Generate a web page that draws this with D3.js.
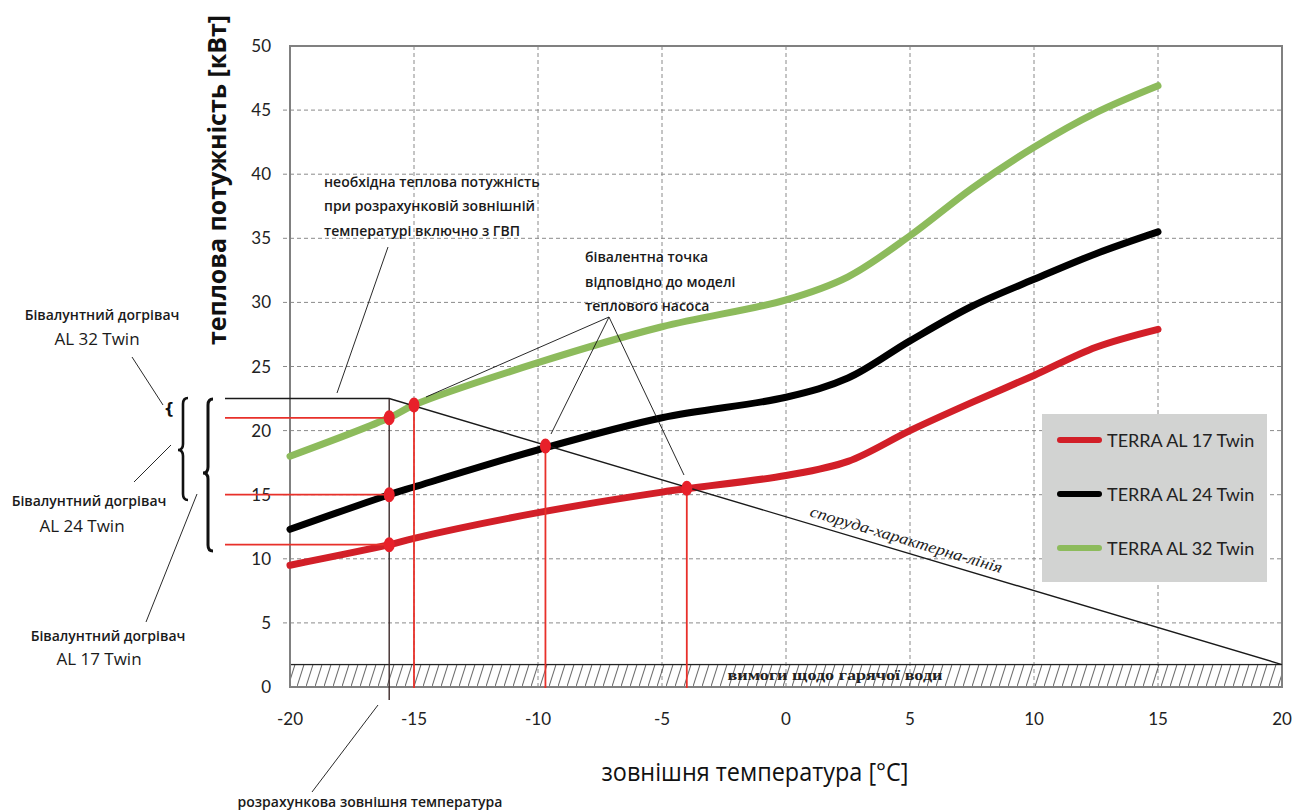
<!DOCTYPE html>
<html><head><meta charset="utf-8">
<script src="https://cdn.jsdelivr.net/npm/d3@7"></script>
<style>body{margin:0;background:#fff}svg{display:block}</style>
</head><body><svg id="c" width="1292" height="812"></svg>
<script>
// ---- data ----
const temps = [-20, -16, -15, -10, -5, 0, 2.5, 5, 7.5, 10, 12.5, 15];
const al17 = [9.5, 11.1, 11.6, 13.6, 15.2, 16.5, 17.6, 20.0, 22.2, 24.3, 26.5, 27.9];
const al24 = [12.3, 15.0, 15.6, 18.5, 21.0, 22.6, 24.1, 27.0, 29.7, 31.8, 33.8, 35.5];
const al32 = [18.0, 21.0, 22.0, 25.3, 28.1, 30.2, 32.0, 35.2, 38.9, 42.1, 44.8, 46.9];
const seriesNames = ["TERRA AL 17 Twin", "TERRA AL 24 Twin", "TERRA AL 32 Twin"];
const seriesColors = ["#d21f28", "#000000", "#8dbb5c"];
const xTicks = [-20, -15, -10, -5, 0, 5, 10, 15, 20];
const yTicks = [0, 5, 10, 15, 20, 25, 30, 35, 40, 45, 50];
const designTemp = -16, designLoad = 22.5;     // building characteristic start
const endTemp = 20, hotWater = 1.75;          // building line end / DHW band
const designPoints = [21.0, 15.0, 11.1];      // heat pump output at design temp
const bivalentTemps = [-15, -9.7, -4.0];      // bivalent points
const bivalentLoads = [22.0, 18.8, 15.5];

// ---- scales ----
const svg = d3.select("#c");
const x = d3.scaleLinear().domain([-20, 20]).range([290, 1282]);
const y = d3.scaleLinear().domain([0, 50]).range([687, 46]);
const FONT = "'Open Sans', 'Noto Sans', sans-serif";
const TFONT = "Lato, 'Liberation Sans', sans-serif";

// hatch pattern
const defs = svg.append("defs");
const pat = defs.append("pattern").attr("id", "hatch").attr("patternUnits", "userSpaceOnUse")
  .attr("width", 9).attr("height", 22).attr("y", y(hotWater));
pat.append("line").attr("x1", 0).attr("y1", 22).attr("x2", 7).attr("y2", 0)
  .attr("stroke", "#333").attr("stroke-width", 0.8);

// grid
const grid = svg.append("g");
yTicks.filter(d => d > 0 && d < 50).forEach(t => {
  grid.append("line").attr("x1", 283).attr("x2", x(20)).attr("y1", y(t)).attr("y2", y(t))
    .attr("stroke", "#8a8a8a").attr("stroke-dasharray", "4,3");
});
xTicks.filter(d => d > -20 && d < 20).forEach(t => {
  grid.append("line").attr("x1", x(t)).attr("x2", x(t)).attr("y1", y(50)).attr("y2", y(0))
    .attr("stroke", "#8a8a8a").attr("stroke-dasharray", "4,3");
});

// DHW band
svg.append("rect").attr("x", x(-20)).attr("y", y(hotWater)).attr("width", x(20) - x(-20))
  .attr("height", y(0) - y(hotWater)).attr("fill", "url(#hatch)").attr("stroke", "#222").attr("stroke-width", 1.3);
svg.append("text").attr("x", 835).attr("y", y(0) - 7).attr("text-anchor", "middle")
  .attr("font-family", "'Liberation Serif', serif").attr("font-weight", "bold").attr("font-size", 14)
  .attr("textLength", 215).attr("lengthAdjust", "spacingAndGlyphs").attr("fill", "#222")
  .text("вимоги щодо гарячої води");

// frame
svg.append("rect").attr("x", x(-20)).attr("y", y(50)).attr("width", x(20) - x(-20)).attr("height", y(0) - y(50))
  .attr("fill", "none").attr("stroke", "#808080").attr("stroke-width", 2);

// tick labels
svg.append("g").selectAll("text").data(yTicks).join("text")
  .attr("x", 271).attr("y", d => y(d) + 6).attr("text-anchor", "end")
  .attr("font-family", TFONT).attr("font-size", 17).attr("fill", "#222").text(d => d);
svg.append("g").selectAll("text").data(xTicks).join("text")
  .attr("x", d => x(d)).attr("y", 725).attr("text-anchor", "middle")
  .attr("font-family", TFONT).attr("font-size", 17).attr("fill", "#222").text(d => d);

// axis titles
svg.append("text").attr("transform", "translate(226,180) rotate(-90)").attr("text-anchor", "middle")
  .attr("font-family", FONT).attr("font-weight", "bold").attr("font-size", 25).attr("fill", "#111")
  .attr("textLength", 330).attr("lengthAdjust", "spacingAndGlyphs").text("теплова потужність [кВт]");
svg.append("text").attr("x", 755).attr("y", 781).attr("text-anchor", "middle")
  .attr("font-family", FONT).attr("font-size", 25).attr("fill", "#111")
  .attr("textLength", 307).attr("lengthAdjust", "spacingAndGlyphs").text("зовнішня температура [°C]");

// curves
const line = d3.line().x(d => x(d[0])).y(d => y(d[1])).curve(d3.curveCatmullRom.alpha(0.5));
[al17, al24, al32].forEach((vals, i) => {
  svg.append("path").datum(temps.map((t, j) => [t, vals[j]])).attr("d", line)
    .attr("fill", "none").attr("stroke", seriesColors[i]).attr("stroke-width", 7).attr("stroke-linecap", "round");
});

// building characteristic line
svg.append("path").attr("d", `M225,${y(designLoad)}L${x(designTemp)},${y(designLoad)}L${x(endTemp)},${y(hotWater)}`)
  .attr("fill", "none").attr("stroke", "#1a1a1a").attr("stroke-width", 1.4);
svg.append("line").attr("x1", x(designTemp)).attr("x2", x(designTemp)).attr("y1", y(designLoad)).attr("y2", 700)
  .attr("stroke", "#3d2a2a").attr("stroke-width", 1.4);
const ang = Math.atan2(y(hotWater) - y(designLoad), x(endTemp) - x(designTemp)) * 180 / Math.PI;
svg.append("text").attr("transform", `translate(809,516) rotate(${ang})`)
  .attr("font-family", "'Liberation Serif', 'DejaVu Serif', serif").attr("font-style", "italic").attr("font-size", 16)
  .attr("textLength", 200).attr("lengthAdjust", "spacingAndGlyphs").attr("fill", "#222").text("споруда-характерна-лінія");

// red reference lines
const red = "#e8302a";
designPoints.forEach(p => {
  svg.append("line").attr("x1", 225).attr("x2", x(designTemp)).attr("y1", y(p)).attr("y2", y(p))
    .attr("stroke", red).attr("stroke-width", 1.8);
});
bivalentTemps.forEach((t, i) => {
  svg.append("line").attr("x1", x(t)).attr("x2", x(t)).attr("y1", y(bivalentLoads[i])).attr("y2", y(0) + 1)
    .attr("stroke", red).attr("stroke-width", 1.8);
});

// leader lines
const leaders = [
  [388, 247, 337, 393], [609, 317, 426, 397], [609, 317, 551, 434], [609, 317, 684, 475],
  [132, 357, 163, 405], [134, 482, 171, 445], [146, 622, 197, 494], [378, 705, 312, 792]
];
svg.append("g").selectAll("line").data(leaders).join("line")
  .attr("x1", d => d[0]).attr("y1", d => d[1]).attr("x2", d => d[2]).attr("y2", d => d[3])
  .attr("stroke", "#111").attr("stroke-width", 0.9);

// points
const pts = designPoints.map(p => [designTemp, p]).concat(bivalentTemps.map((t, i) => [t, bivalentLoads[i]]));
svg.append("g").selectAll("ellipse").data(pts).join("ellipse")
  .attr("cx", d => x(d[0])).attr("cy", d => y(d[1])).attr("rx", 5.5).attr("ry", 7.5).attr("fill", "#e8202a");

// braces
function brace(bx, top, bot, mid) {
  const w = 5, r = 6;
  return `M${bx + w},${top} Q${bx},${top} ${bx},${top + r} L${bx},${mid - r} Q${bx},${mid} ${bx - w},${mid} Q${bx},${mid} ${bx},${mid + r} L${bx},${bot - r} Q${bx},${bot} ${bx + w},${bot}`;
}
svg.append("path").attr("d", brace(183, 398, 500, 450)).attr("fill", "none").attr("stroke", "#111").attr("stroke-width", 2.6);
svg.append("path").attr("d", brace(208, 399, 551, 473)).attr("fill", "none").attr("stroke", "#111").attr("stroke-width", 3);
svg.append("text").attr("x", 169).attr("y", 414).attr("text-anchor", "middle").attr("font-family", "'DejaVu Sans', sans-serif")
  .attr("font-weight", "bold").attr("font-size", 15).attr("fill", "#111").text("{");

// annotation texts
function label(lines, x0, ys, anchor, size, weight) {
  lines.forEach((t, i) => svg.append("text").attr("x", Array.isArray(x0) ? x0[i] : x0).attr("y", ys[i])
    .attr("text-anchor", anchor).attr("font-family", FONT).attr("font-weight", weight[i])
    .attr("font-size", size[i]).attr("fill", "#1a1a1a").text(t));
}
label(["необхідна теплова потужність", "при розрахунковій зовнішній", "температурі включно з ГВП"],
  324, [187, 211, 236], "start", [14, 14, 14], [600, 600, 600]);
label(["бівалентна точка", "відповідно до моделі", "теплового насоса"],
  585, [262, 287, 311], "start", [14, 14, 14], [600, 600, 600]);
label(["Бівалунтний догрівач", "AL 32 Twin"], [102, 97], [320, 345], "middle", [14, 17], [600, 400]);
label(["Бівалунтний догрівач", "AL 24 Twin"], [89, 82], [506, 532], "middle", [14, 17], [600, 400]);
label(["Бівалунтний догрівач", "AL 17 Twin"], [108, 99], [641, 665], "middle", [14, 17], [600, 400]);
label(["розрахункова зовнішня температура"], 370, [807], "middle", [14], [600]);

// legend
const lg = svg.append("g");
lg.append("rect").attr("x", 1042).attr("y", 414).attr("width", 225).attr("height", 168).attr("fill", "#d2d3d2");
seriesNames.forEach((n, i) => {
  const ly = 440 + i * 54;
  lg.append("line").attr("x1", 1060).attr("x2", 1099).attr("y1", ly).attr("y2", ly)
    .attr("stroke", seriesColors[i]).attr("stroke-width", 6).attr("stroke-linecap", "round");
  lg.append("text").attr("x", 1107).attr("y", ly + 7).attr("font-family", TFONT).attr("font-size", 18)
    .attr("fill", "#222").text(n);
});
</script></body></html>
